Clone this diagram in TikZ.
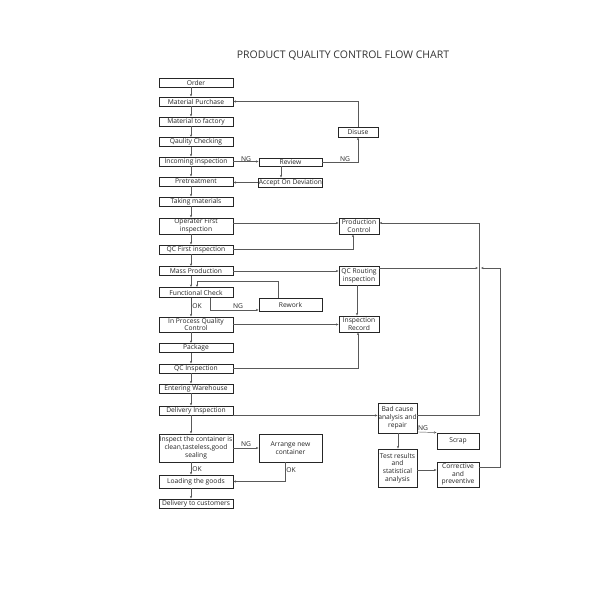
\documentclass[tikz,border=0pt]{standalone}
\usepackage{fontspec}
\setmainfont{Open Sans}
\usetikzlibrary{arrows.meta}
\begin{document}
\begin{tikzpicture}[x=1pt,y=-1pt,
  box/.style={draw=black!85, line width=0.9pt, inner sep=0pt, align=center,
    font=\fontsize{6.7}{7.8}\selectfont, text=black!85},
  mainbox/.style={box, minimum width=74pt},
  midbox/.style={box, minimum width=63pt},
  rbox/.style={box, minimum width=40pt},
  conn/.style={draw=black!65, line width=0.45pt},
  arr/.style={conn, -{Stealth[length=2.6pt,width=2.2pt]}},
  lbl/.style={font=\fontsize{6.7}{7.8}\selectfont, text=black!85, inner sep=0pt}]
\useasboundingbox (0,0) rectangle (600,600);
\fill[white] (0,0) rectangle (600,600);
\node[font=\fontsize{10.5}{12}\selectfont, text=black!80] (title) at (343,56) {PRODUCT QUALITY CONTROL FLOW CHART};
% main column
\node[mainbox, minimum height=9pt] (order) at (196,82.5) {Order};
\node[mainbox, minimum height=9pt] (purchase) at (196,101.5) {Material Purchase};
\node[mainbox, minimum height=9pt] (factory) at (196,121.5) {Material to factory};
\node[mainbox, minimum height=9pt] (checking) at (196,142) {Qaulity Checking};
\node[mainbox, minimum height=9pt] (incoming) at (196,161.5) {Incoming inspection};
\node[mainbox, minimum height=9pt] (pretreat) at (196,181.5) {Pretreatment};
\node[mainbox, minimum height=9pt] (taking) at (196,201.5) {Taking materials};
\node[mainbox, minimum height=16pt] (operater) at (196,226) {Operater First\\inspection};
\node[mainbox, minimum height=9pt] (qcfirst) at (196,249.5) {QC First inspection};
\node[mainbox, minimum height=9pt] (mass) at (196,271) {Mass Production};
\node[mainbox, minimum height=10pt] (functional) at (196,292.5) {Functional Check};
\node[mainbox, minimum height=15pt] (inprocess) at (196,324.5) {In Process Quality\\Control};
\node[mainbox, minimum height=9pt] (package) at (196,348) {Package};
\node[mainbox, minimum height=9pt] (qcinsp) at (196,368.5) {QC Inspection};
\node[mainbox, minimum height=9pt] (warehouse) at (196,388.5) {Entering Warehouse};
\node[mainbox, minimum height=9pt] (delivery) at (196,410.5) {Delivery Inspection};
\node[mainbox, minimum height=28pt] (inspect) at (196,448) {Inspect the container is\\clean,tasteless,good\\sealing};
\node[mainbox, minimum height=13pt] (loading) at (196,481.5) {Loading the goods};
\node[mainbox, minimum height=9pt] (customers) at (196,503.5) {Delivery to customers};
% middle column
\node[midbox, minimum height=8pt] (review) at (290.5,162) {Review};
\node[midbox, minimum height=9pt] (accept) at (290.5,182.5) {Accept On Deviation};
\node[midbox, minimum height=13pt] (rework) at (290.5,304.5) {Rework};
\node[midbox, minimum height=28pt] (arrange) at (290.5,448) {Arrange new\\container};
% right column
\node[rbox, minimum height=10pt] (disuse) at (358,132) {Disuse};
\node[rbox, minimum height=16pt] (prodctrl) at (359,226) {Production\\Control};
\node[rbox, minimum height=19pt] (qcrouting) at (359,275.5) {QC Routing\\inspection};
\node[rbox, minimum height=16pt] (insprecord) at (359,324) {Inspection\\Record};
\node[box, minimum width=39pt, minimum height=30pt] (badcause) at (397.5,418) {Bad cause\\analysis and\\repair};
\node[box, minimum width=39pt, minimum height=38pt] (testres) at (397.5,468) {Test results\\and\\statistical\\analysis};
\node[box, minimum width=42pt, minimum height=16pt] (scrap) at (458,441) {Scrap};
\node[box, minimum width=42pt, minimum height=25pt] (corrective) at (458,474.5) {Corrective\\and\\preventive};
% junction coordinates
\coordinate (jr) at (479,268);
\coordinate (jc) at (500,268);
\coordinate (pcin) at ([yshift=3pt]prodctrl.east);
% main flow
\foreach \a/\b in {order/purchase,purchase/factory,factory/checking,checking/incoming,
  incoming/pretreat,pretreat/taking,taking/operater,operater/qcfirst,qcfirst/mass,
  mass/functional,functional/inprocess,inprocess/package,package/qcinsp,qcinsp/warehouse,
  warehouse/delivery,delivery/inspect,inspect/loading,loading/customers}
  \draw[arr] ([xshift=-5pt]\a.south) -- ([xshift=-5pt]\b.north);
\node[lbl] (ok1) at (197,306) {OK};
\node[lbl] (ok2) at (197,469) {OK};
% incoming inspection loop
\draw[arr] (incoming.east) -- (review.west |- incoming.east);
\node[lbl] (ng1) at (246,159) {NG};
\draw[arr] (review.east) -| (disuse.south);
\node[lbl] (ng2) at (345,159) {NG};
\draw[arr] (disuse.north) |- (purchase.east);
\draw[arr] ([xshift=-9.5pt]review.south) -- ([xshift=-9.5pt]accept.north);
\draw[arr] (accept.west) -- (pretreat.east |- accept.west);
% production control
\draw[arr] ([yshift=3pt]operater.east) -- ([yshift=3pt]prodctrl.west);
\draw[arr] (qcfirst.east) -| ([xshift=-6pt]prodctrl.south);
\draw[arr] (mass.east) -- (qcrouting.west |- mass.east);
\draw[arr] (qcrouting.east |- jr) -- ([xshift=-1pt]jr);
\draw[arr] ([yshift=3pt]badcause.east) -- ([yshift=3pt]badcause.east -| jr) -- (jr |- pcin) -- (pcin);
\draw[arr] ([yshift=7.5pt]corrective.east) -- ([yshift=7.5pt]corrective.east -| jc) -- (jc) -- ([xshift=2pt]jr);
% functional check / rework
\draw[arr] ([xshift=14pt]functional.south) |- ([yshift=1.5pt]rework.south west);
\node[lbl] (ng3) at (238,306) {NG};
\draw[arr] ([xshift=-12.5pt]rework.north) |- (197,281) -- ([xshift=1pt]functional.north);
% inspection record
\draw[arr] ([xshift=-2pt]qcrouting.south) -- ([xshift=-2pt]insprecord.north);
\draw[arr] (inprocess.east) -- (insprecord.west |- inprocess.east);
\draw[arr] (qcinsp.east) -| ([xshift=-1pt]insprecord.south);
% delivery / bad cause
\draw[arr] (delivery.south east) -- (delivery.south east -| badcause.west);
\draw[arr] ([xshift=0.5pt]badcause.south) -- ([xshift=0.5pt]testres.north);
\draw[arr] ([yshift=-2pt]testres.east) -- ([yshift=-2pt]testres.east -| corrective.west);
\draw[arr] ([yshift=1.5pt]badcause.south east) -- (scrap.north west);
\node[lbl] (ng4) at (423,428) {NG};
% container
\draw[arr] (inspect.east) -- (arrange.west);
\node[lbl] (ng5) at (246,444) {NG};
\draw[arr] ([xshift=-5.5pt]arrange.south) |- (loading.east);
\node[lbl] (ok3) at (291,470) {OK};
\end{tikzpicture}
\end{document}
